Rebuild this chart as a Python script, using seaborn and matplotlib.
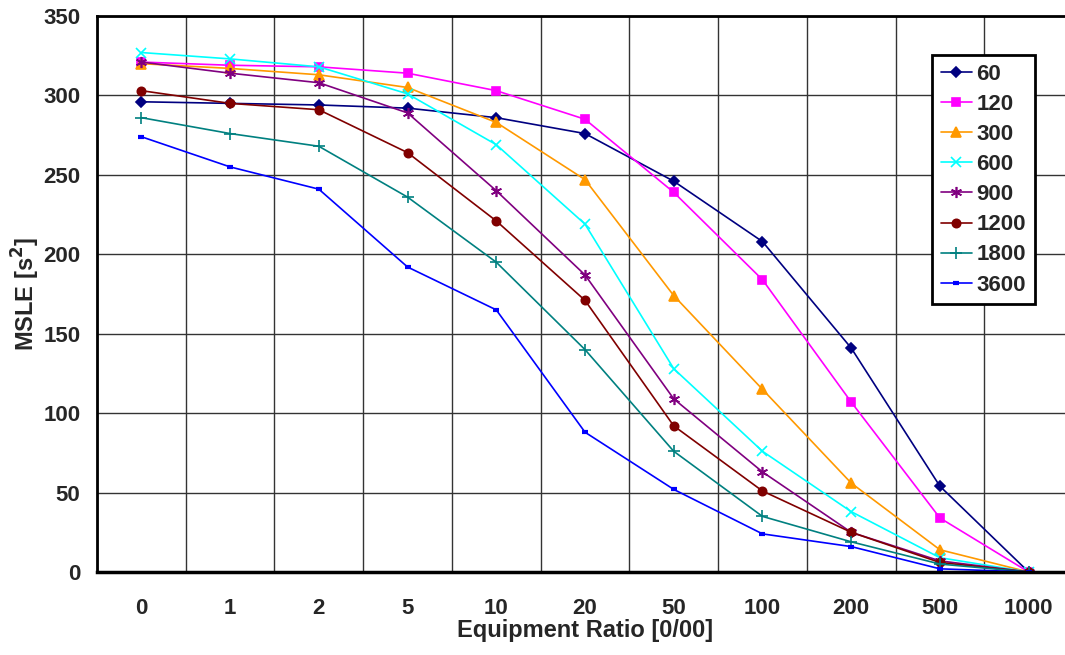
import seaborn as sns
import matplotlib.pyplot as plt
import pandas as pd
import numpy as np

ratios = ['0', '1', '2', '5', '10', '20', '50', '100', '200', '500', '1000']
series = ['60', '120', '300', '600', '900', '1200', '1800', '3600']

msle_60 = [296, 295, 294, 292, 286, 276, 246, 208, 141, 54, 0]
msle_120 = [321, 319, 318, 314, 303, 285, 239, 184, 107, 34, 0]
msle_300 = [320, 317, 313, 305, 283, 247, 174, 115, 56, 14, 0]
msle_600 = [327, 323, 318, 301, 269, 219, 128, 76, 38, 9, 0]
msle_900 = [321, 314, 308, 289, 240, 187, 109, 63, 25, 7, 0]
msle_1200 = [303, 295, 291, 264, 221, 171, 92, 51, 25, 6, 0]
msle_1800 = [286, 276, 268, 236, 195, 140, 76, 35, 19, 5, 0]
msle_3600 = [274, 255, 241, 192, 165, 88, 52, 24, 16, 2, 0]

values = [msle_60, msle_120, msle_300, msle_600, msle_900, msle_1200, msle_1800, msle_3600]

colors = ['#000080', '#FF00FF', '#FF9900', '#00FFFF', '#800080', '#800000', '#008080', '#0000FF']
markers = ['D', 's', '^', 'x', (6, 2, 0), 'o', '+', '_']
msizes = [5, 6, 7, 7, 8, 6, 8, 5]

rows = []
for name, vals in zip(series, values):
    for i, v in enumerate(vals):
        rows.append({'pos': i, 'ratio': ratios[i], 'msle': v, 'series': name})
df = pd.DataFrame(rows)

sns.set_style('white')
plt.rcParams['font.family'] = ['Liberation Sans', 'DejaVu Sans']
plt.rcParams['font.weight'] = 'bold'

fig = plt.figure(figsize=(10.65, 6.55), dpi=100)
ax = fig.add_axes([97 / 1065, (655 - 572) / 655, 976 / 1065, 556 / 655])

for name, c, m, ms in zip(series, colors, markers, msizes):
    d = df[df['series'] == name]
    mew = 3 if m == '_' else 1.2
    sns.lineplot(data=d, x='pos', y='msle', color=c, marker=m, markersize=ms,
                 markeredgecolor=c, markeredgewidth=mew, linewidth=1.2,
                 label=name, ax=ax)

ax.set_xlim(-0.5, 10.5)
ax.set_ylim(0, 350)
ax.set_xticks(range(len(ratios)))
ax.set_xticklabels(ratios)
ax.set_xticks(np.arange(-0.5, 10.6, 1), minor=True)
ax.set_yticks(np.arange(0, 351, 50))
ax.tick_params(axis='x', which='major', length=0, labelsize=16, pad=19)
ax.tick_params(axis='x', which='minor', length=6, width=1, color='#444444', direction='out')
ax.tick_params(axis='y', which='major', length=6, width=1, direction='out', labelsize=16, pad=6)
for lab in ax.get_xticklabels() + ax.get_yticklabels():
    lab.set_fontweight('bold')

ax.grid(True, axis='y', which='major', color='#333333', linewidth=1)
ax.grid(True, axis='x', which='minor', color='#333333', linewidth=1)
ax.grid(False, axis='x', which='major')
ax.set_axisbelow(True)

for s in ['left', 'bottom', 'top']:
    ax.spines[s].set_visible(True)
    ax.spines[s].set_color('black')
ax.spines['left'].set_linewidth(2)
ax.spines['bottom'].set_linewidth(2.5)
ax.spines['top'].set_linewidth(2)
ax.spines['right'].set_visible(False)

ax.set_xlabel('Equipment Ratio [0/00]', fontsize=17, fontweight='bold', labelpad=0)
ax.set_ylabel('MSLE [s$^2$]', fontsize=17, fontweight='bold', labelpad=1)

leg = ax.legend(loc='upper left', bbox_to_anchor=(0.8555, 0.930), borderaxespad=0,
                fontsize=16, handlelength=1.4, handletextpad=0.2, labelspacing=0.41,
                borderpad=0.4, fancybox=False, framealpha=1, edgecolor='black')
leg.get_frame().set_linewidth(2)
for t in leg.get_texts():
    t.set_fontweight('bold')

fig.savefig('out.png', dpi=100)
